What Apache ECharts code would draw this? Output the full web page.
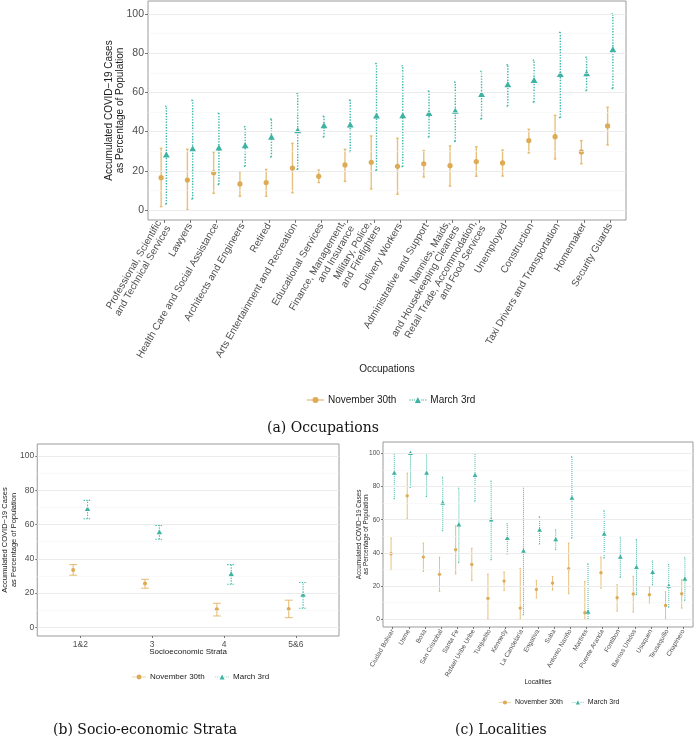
<!DOCTYPE html>
<html>
<head>
<meta charset="utf-8">
<script src="https://cdn.jsdelivr.net/npm/echarts@6/dist/echarts.min.js"></script>
<style>
html,body{margin:0;padding:0;background:#fff;}
#chart{width:700px;height:739px;}
</style>
</head>
<body>
<div id="chart"></div>
<script>
// ---------- Data ----------
const occupations = [
  'Professional, Scientific\nand Technical Services', 'Lawyers', 'Health Care and Social Assistance',
  'Architects and Engineers', 'Retired', 'Arts Entertainment and Recreation', 'Educational Services',
  'Finance, Management,\nand Insurance', 'Military, Police,\nand Firefighters', 'Delivery Workers',
  'Administrative and Support', 'Nannies, Maids,\nand Housekeeping Cleaners',
  'Retail Trade, Accommodation,\nand Food Services', 'Unemployed', 'Construction',
  'Taxi Drivers and Transportation', 'Homemaker', 'Security Guards'
];
const occNovMean = [16.5, 15.3, 19, 13.3, 14, 21.4, 17.2, 23, 24.3, 22.3, 23.6, 22.6, 24.7, 24, 35.4, 37.4, 29.6, 42.9];
const occNovLo   = [1.7, 0, 8.5, 7, 7, 8.8, 14, 14.6, 10.7, 8, 16.8, 12.2, 17.2, 17.3, 29.1, 26, 23.6, 33.2];
const occNovHi   = [31.5, 31, 29.6, 19.6, 20.7, 34, 20.4, 31, 37.8, 36.6, 30.3, 32.7, 32.3, 30.6, 41.2, 48.3, 35.4, 52.4];
const occMarMean = [28, 31, 31.5, 32.6, 37, 40.3, 42.9, 43.2, 47.8, 48, 49.1, 50.3, 58.8, 63.8, 66, 69, 69.4, 81.6];
const occMarLo   = [3, 5.6, 13, 22.3, 27, 20.7, 37.2, 29.8, 20.2, 22.1, 37.2, 35, 46.4, 53, 55, 47.1, 60.9, 62];
const occMarHi   = [53, 56, 49.5, 42.5, 46.4, 59.5, 47.8, 56.1, 74.7, 73.5, 60.7, 65.3, 70.7, 74.1, 76.4, 90.6, 77.9, 100];

const strata = ['1&2', '3', '4', '5&6'];
const strNovMean = [33.5, 25.5, 10.5, 10.7];
const strNovLo   = [30.4, 22.8, 6.6, 5.6];
const strNovHi   = [36.6, 28, 14, 15.8];
const strMarMean = [68.9, 55.4, 30.9, 18.9];
const strMarLo   = [63.4, 51.4, 25.1, 11.1];
const strMarHi   = [74.1, 59.5, 36.6, 26.1];

const localities = ['Ciudad Bolivar', 'Usme', 'Bosa', 'San Cristobal', 'Santa Fe', 'Rafael Uribe Uribe',
  'Tunjuelito', 'Kennedy', 'La Candelaria', 'Engativa', 'Suba', 'Antonio Nariño', 'Martires',
  'Puente Aranda', 'Fontibon', 'Barrios Unidos', 'Usaquen', 'Teusaquillo', 'Chapinero'];
const locNovMean = [39.4, 74.4, 37.4, 27, 41.9, 33, 12.5, 22.9, 6.6, 17.9, 21.7, 30.4, 3.8, 28, 12.9, 15.1, 14.7, 8.2, 15.3];
const locNovLo   = [29.8, 60.8, 28.8, 16.7, 27.2, 23.3, 0, 17.3, 0, 12.7, 17.5, 15.3, 0, 18.7, 4.8, 4.2, 9.7, 0, 6.6];
const locNovHi   = [48.9, 88.1, 45.9, 37.4, 56.3, 42.7, 27.2, 28.4, 30.6, 23.3, 25.6, 45.9, 22.7, 37.4, 20.7, 25.8, 19.3, 16.5, 23.7];
const locMarMean = [88.1, 100, 88.1, 70, 56.9, 86.7, 59.8, 48.7, 41, 53.7, 47.9, 73, 4.2, 51.3, 37.4, 31.2, 28.2, 19.9, 24.1];
const locMarLo   = [72.6, 79.5, 74, 53.3, 34.2, 71.2, 35.8, 39.2, 2.6, 45.3, 41.9, 48.9, 0, 36.8, 25.2, 14.7, 20.7, 7.2, 11.3];
const locMarHi   = [100, 100, 100, 85.7, 79, 100, 83.3, 57.5, 80, 61.8, 53.9, 98.2, 33.4, 65.6, 49.5, 47.9, 35, 32.8, 37];

const yTicks = [0, 20, 40, 60, 80, 100];
const yMinor = [10, 30, 50, 70, 90];
const seriesNames = ['November 30th', 'March 3rd'];

// ---------- Styling ----------
const ORANGE = '#DDAA55';
const ORANGE_BAR = 'rgba(224,172,82,0.75)';
const TEAL = '#3FB3A3';
const TEAL_BAR = '#3DB9A9';
const SANS = 'Liberation Sans';
const DODGE = 0.1;
const yTitle = 'Accumulated COVID\u221219 Cases\nas Percentage of Population';

const chart = echarts.init(document.getElementById('chart'), null, {renderer: 'canvas'});

function makeRender(kind, p) {
  return function (params, api) {
    const x = api.value(0), m = api.value(1), lo = api.value(2), hi = api.value(3);
    const pm = api.coord([x, m]);
    const pl = api.coord([x, lo]);
    const ph = api.coord([x, hi]);
    const cl = api.coord([x - p.cap, lo])[0];
    const cr = api.coord([x + p.cap, lo])[0];
    const isNov = kind === 'nov';
    const stroke = isNov ? ORANGE_BAR : TEAL_BAR;
    const dash = isNov ? null : p.dash;
    const lineStyle = {stroke: stroke, lineWidth: p.lw, lineDash: dash};
    const children = [
      {type: 'line', shape: {x1: pl[0], y1: pl[1], x2: ph[0], y2: ph[1]}, style: lineStyle},
      {type: 'line', shape: {x1: cl, y1: pl[1], x2: cr, y2: pl[1]}, style: lineStyle},
      {type: 'line', shape: {x1: cl, y1: ph[1], x2: cr, y2: ph[1]}, style: lineStyle}
    ];
    if (isNov) {
      children.push({type: 'circle', shape: {cx: pm[0], cy: pm[1], r: p.dot}, style: {fill: ORANGE}});
    } else {
      const h = p.tri, w = p.tri * 1.15;
      children.push({type: 'polygon', shape: {points: [
        [pm[0], pm[1] - h * 0.62], [pm[0] - w / 2, pm[1] + h * 0.38], [pm[0] + w / 2, pm[1] + h * 0.38]
      ]}, style: {fill: TEAL}});
    }
    return {type: 'group', children: children};
  };
}

function buildData(mean, lo, hi, offset) {
  return mean.map((v, i) => [i + offset, v, lo[i], hi[i]]);
}

function gridSeries(idx) {
  const data = yTicks.map(v => ({yAxis: v, lineStyle: {color: '#EBEBEB', width: 1, type: 'solid'}}))
    .concat(yMinor.map(v => ({yAxis: v, lineStyle: {color: '#F5F5F5', width: 0.6, type: 'solid'}})));
  return {
    type: 'line', name: 'grid' + idx, data: [], xAxisIndex: idx, yAxisIndex: idx, z: 0,
    silent: true, animation: false,
    markLine: {silent: true, symbol: ['none', 'none'], label: {show: false}, animation: false, data: data}
  };
}

function panelSeries(idx, nov, mar, p) {
  return [
    gridSeries(idx),
    {type: 'custom', name: seriesNames[0], xAxisIndex: idx, yAxisIndex: idx, z: 3,
      itemStyle: {color: ORANGE}, renderItem: makeRender('nov', p), encode: {x: 0, y: 1},
      data: buildData(nov[0], nov[1], nov[2], -DODGE), clip: false, animation: false},
    {type: 'custom', name: seriesNames[1], xAxisIndex: idx, yAxisIndex: idx, z: 4,
      itemStyle: {color: TEAL}, renderItem: makeRender('mar', p), encode: {x: 0, y: 1},
      data: buildData(mar[0], mar[1], mar[2], DODGE), clip: false, animation: false}
  ];
}

function xAxisCfg(idx, cats, opt) {
  const idxs = cats.map((c, i) => i);
  return {
    type: 'value', gridIndex: idx, min: -0.6, max: cats.length - 0.4,
    axisLine: {show: false, onZero: false},
    axisTick: {show: true, length: opt.tickLen, customValues: idxs, lineStyle: {color: '#555', width: 0.8}},
    axisLabel: {customValues: idxs, formatter: v => cats[Math.round(v)], rotate: opt.rotate,
      fontFamily: SANS, fontSize: opt.fs, color: '#4D4D4D', margin: opt.margin, lineHeight: opt.fs * 1.05,
      interval: 0, hideOverlap: false},
    splitLine: {show: false},
    name: opt.name, nameLocation: 'middle', nameGap: opt.nameGap, nameMoveOverlap: false,
    nameTextStyle: {fontFamily: SANS, fontSize: opt.nfs, color: '#1A1A1A', verticalAlign: 'top'}
  };
}

function yAxisCfg(idx, min, max, opt) {
  return {
    type: 'value', gridIndex: idx, min: min, max: max,
    axisLine: {show: false, onZero: false},
    axisTick: {show: true, length: opt.tickLen, customValues: yTicks, lineStyle: {color: '#555', width: 0.8}},
    axisLabel: {customValues: yTicks, fontFamily: SANS, fontSize: opt.fs, color: '#4D4D4D', margin: opt.margin},
    splitLine: {show: false},
    name: yTitle, nameLocation: 'middle', nameGap: opt.nameGap, nameRotate: 90, nameMoveOverlap: false,
    nameTextStyle: {fontFamily: SANS, fontSize: opt.nfs, color: '#1A1A1A', lineHeight: opt.nfs * 1.15, align: 'center'}
  };
}

const novIcon = 'path://M0,2.6h5.5v0.8H0z M11.5,2.6H17v0.8h-5.5z M5.5,3a3,3 0 1,0 6,0a3,3 0 1,0 -6,0z';
const marIcon = 'path://M0,2.6h1.4v0.8H0z M2.4,2.6h1.4v0.8H2.4z M4.6,2.6h0.9v0.8H4.6z M5.5,6L8.5,0L11.5,6z M11.5,2.6h0.9v0.8h-0.9z M13.2,2.6h1.4v0.8h-1.4z M15.6,2.6H17v0.8h-1.4z';

function legendCfg(left, top, fs, iw, ih) {
  return {
    left: left, top: top, orient: 'horizontal', itemWidth: iw, itemHeight: ih, itemGap: fs * 1.3,
    textStyle: {fontFamily: SANS, fontSize: fs, color: '#1A1A1A', padding: [0, 0, 0, -1]},
    selectedMode: false,
    data: [{name: seriesNames[0], icon: novIcon}, {name: seriesNames[1], icon: marIcon}]
  };
}

const pa = {cap: 0.05, lw: 1.4, dot: 2.6, tri: 6, dash: [1.4, 1.4]};
const pb = {cap: 0.055, lw: 1.1, dot: 2.0, tri: 4.8, dash: [1.3, 1.3]};
const pc = {cap: 0.05, lw: 1.0, dot: 1.7, tri: 4.2, dash: [1, 1]};

const border = {show: true, borderColor: '#9A9A9A', borderWidth: 1, backgroundColor: 'transparent'};

const option = {
  animation: false,
  backgroundColor: '#fff',
  color: [ORANGE, TEAL],
  grid: [
    Object.assign({left: 148, top: 1, width: 478, height: 219}, border),
    Object.assign({left: 36, top: 444, width: 303, height: 192}, border),
    Object.assign({left: 383, top: 442, width: 310, height: 185}, border)
  ],
  xAxis: [
    xAxisCfg(0, occupations, {tickLen: 3, rotate: 60, fs: 10, margin: 4, name: 'Occupations', nameGap: 144, nfs: 10}),
    xAxisCfg(1, strata, {tickLen: 2, rotate: 0, fs: 8.5, margin: 4, name: 'Socioeconomic Strata', nameGap: 12, nfs: 8}),
    xAxisCfg(2, localities, {tickLen: 2, rotate: 60, fs: 6.5, margin: 3, name: 'Localities', nameGap: 52, nfs: 6.5})
  ],
  yAxis: [
    yAxisCfg(0, -5.1, 106.6, {tickLen: 3, fs: 10.5, margin: 4, nameGap: 22, nfs: 10}),
    yAxisCfg(1, -5.1, 107, {tickLen: 2, fs: 8.5, margin: 3, nameGap: 19, nfs: 7.5}),
    yAxisCfg(2, -4.8, 106.9, {tickLen: 2, fs: 6.6, margin: 3, nameGap: 13, nfs: 6.4})
  ],
  legend: [
    legendCfg(302, 390, 10, 17, 6),
    legendCfg(127, 668, 8, 14, 5),
    legendCfg(494, 694, 7, 12, 4.2)
  ],
  graphic: [
    {type: 'text', x: 267, y: 421, style: {text: '(a) Occupations', font: '14px "DejaVu Serif"', fill: '#111'}},
    {type: 'text', x: 53, y: 723, style: {text: '(b) Socio-economic Strata', font: '14px "DejaVu Serif"', fill: '#111'}},
    {type: 'text', x: 455, y: 723, style: {text: '(c) Localities', font: '14px "DejaVu Serif"', fill: '#111'}}
  ],
  series: [].concat(
    panelSeries(0, [occNovMean, occNovLo, occNovHi], [occMarMean, occMarLo, occMarHi], pa),
    panelSeries(1, [strNovMean, strNovLo, strNovHi], [strMarMean, strMarLo, strMarHi], pb),
    panelSeries(2, [locNovMean, locNovLo, locNovHi], [locMarMean, locMarLo, locMarHi], pc)
  )
};
chart.setOption(option);
</script>
</body>
</html>
